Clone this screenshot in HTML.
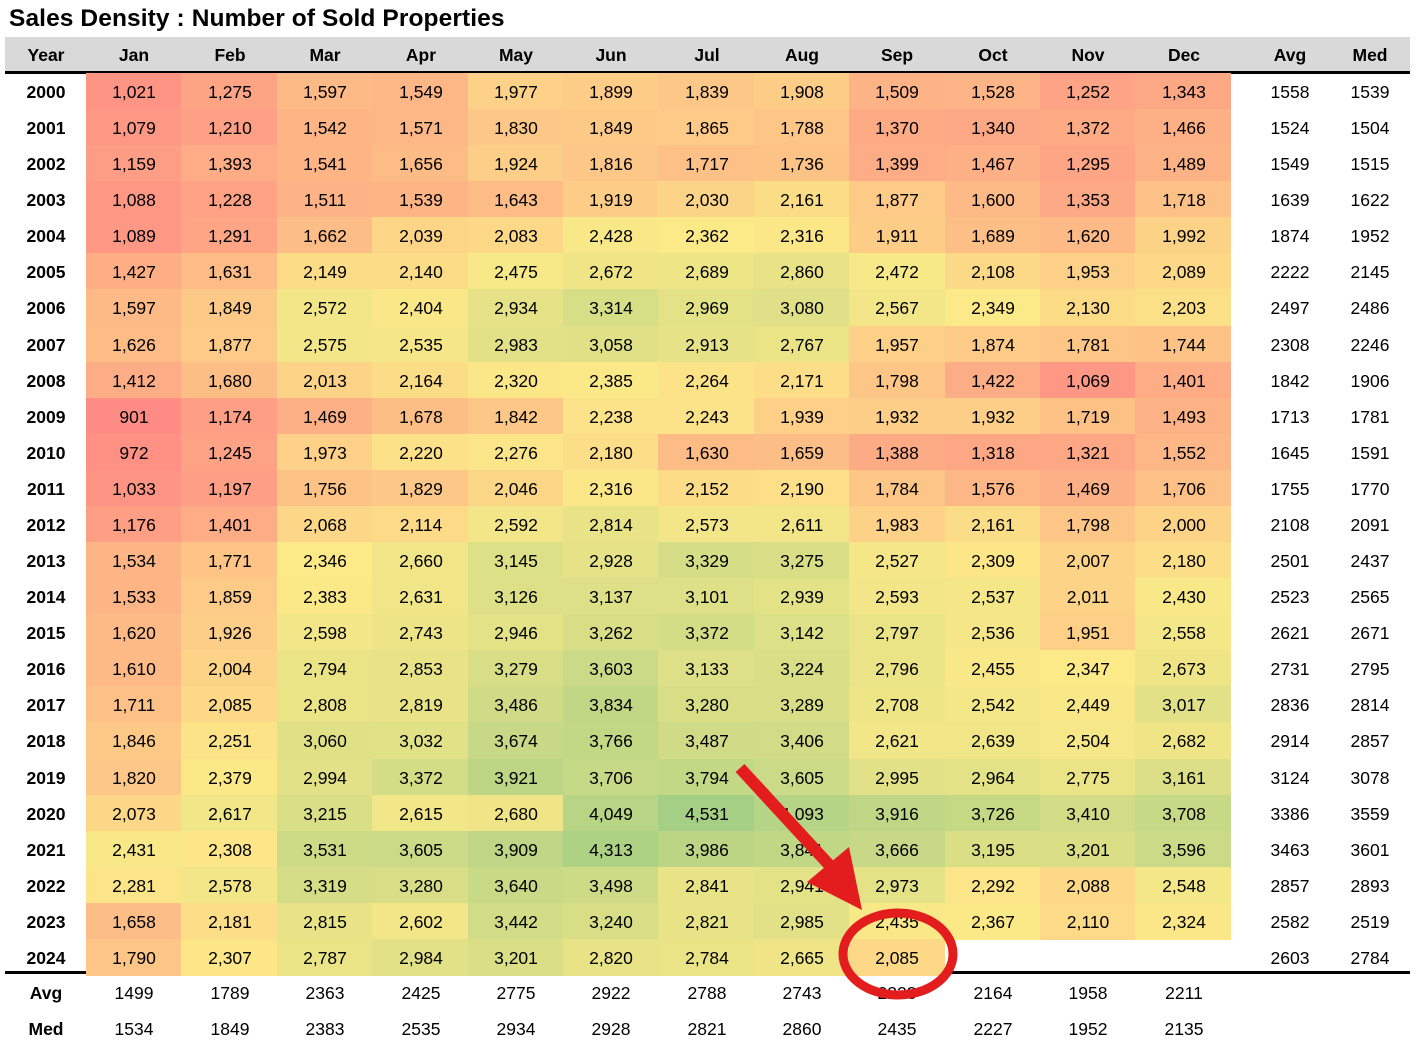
<!DOCTYPE html>
<html><head><meta charset="utf-8"><style>
body{margin:0;width:1423px;height:1040px;background:#fff;position:relative;overflow:hidden;font-family:"Liberation Sans",sans-serif}
.t{position:absolute;text-align:center;font-size:17.5px;color:#000;line-height:20px}
.b{font-weight:bold}
.c{position:absolute}
</style></head><body>
<div style="position:absolute;left:9px;top:5px;font-size:24.5px;font-weight:bold;letter-spacing:0.1px">Sales Density : Number of Sold Properties</div>
<div style="position:absolute;left:5px;top:37px;width:1405px;height:34px;background:#d9d9d9"></div>
<div style="position:absolute;left:5px;top:71px;width:1405px;height:3px;background:#000"></div>
<div style="position:absolute;left:5px;top:971px;width:1405px;height:3px;background:#000"></div>
<div id="g"></div>
<svg style="position:absolute;left:0;top:0" width="1423" height="1040">
<line x1="740" y1="768" x2="832" y2="868" stroke="#e31d1d" stroke-width="12"/>
<polygon points="849,847 807,882 862,910" fill="#e31d1d"/>
<ellipse cx="898" cy="954" rx="55" ry="41" fill="none" stroke="#e31d1d" stroke-width="9"/>
</svg>
<script>
const d=`1021 1275 1597 1549 1977 1899 1839 1908 1509 1528 1252 1343 1558 1539
1079 1210 1542 1571 1830 1849 1865 1788 1370 1340 1372 1466 1524 1504
1159 1393 1541 1656 1924 1816 1717 1736 1399 1467 1295 1489 1549 1515
1088 1228 1511 1539 1643 1919 2030 2161 1877 1600 1353 1718 1639 1622
1089 1291 1662 2039 2083 2428 2362 2316 1911 1689 1620 1992 1874 1952
1427 1631 2149 2140 2475 2672 2689 2860 2472 2108 1953 2089 2222 2145
1597 1849 2572 2404 2934 3314 2969 3080 2567 2349 2130 2203 2497 2486
1626 1877 2575 2535 2983 3058 2913 2767 1957 1874 1781 1744 2308 2246
1412 1680 2013 2164 2320 2385 2264 2171 1798 1422 1069 1401 1842 1906
901 1174 1469 1678 1842 2238 2243 1939 1932 1932 1719 1493 1713 1781
972 1245 1973 2220 2276 2180 1630 1659 1388 1318 1321 1552 1645 1591
1033 1197 1756 1829 2046 2316 2152 2190 1784 1576 1469 1706 1755 1770
1176 1401 2068 2114 2592 2814 2573 2611 1983 2161 1798 2000 2108 2091
1534 1771 2346 2660 3145 2928 3329 3275 2527 2309 2007 2180 2501 2437
1533 1859 2383 2631 3126 3137 3101 2939 2593 2537 2011 2430 2523 2565
1620 1926 2598 2743 2946 3262 3372 3142 2797 2536 1951 2558 2621 2671
1610 2004 2794 2853 3279 3603 3133 3224 2796 2455 2347 2673 2731 2795
1711 2085 2808 2819 3486 3834 3280 3289 2708 2542 2449 3017 2836 2814
1846 2251 3060 3032 3674 3766 3487 3406 2621 2639 2504 2682 2914 2857
1820 2379 2994 3372 3921 3706 3794 3605 2995 2964 2775 3161 3124 3078
2073 2617 3215 2615 2680 4049 4531 4093 3916 3726 3410 3708 3386 3559
2431 2308 3531 3605 3909 4313 3986 3841 3666 3195 3201 3596 3463 3601
2281 2578 3319 3280 3640 3498 2841 2941 2973 2292 2088 2548 2857 2893
1658 2181 2815 2602 3442 3240 2821 2985 2435 2367 2110 2324 2582 2519
1790 2307 2787 2984 3201 2820 2784 2665 2085 - - - 2603 2784`.split('\n').map(r=>r.trim().split(/\s+/));
const cx=[134,230,325,421,516,611,707,802,897,993,1088,1184,1290,1370];
const hd=['Jan','Feb','Mar','Apr','May','Jun','Jul','Aug','Sep','Oct','Nov','Dec','Avg','Med'];
let h='';
const T=(x,y,s,b)=>`<div class="t${b?' b':''}" style="left:${x-50}px;top:${y-10}px;width:100px">${s}</div>`;
h+=T(46,55,'Year',1);hd.forEach((s,i)=>h+=T(cx[i],55,s,1));
const mi=[252,233,136],hi=[165,207,132];
function col(v){let a,b,t;if(v<2350){t=Math.max(0,(v-900)/1450);a=[254,140,132];b=mi}else{t=Math.min(1,(v-2350)/2180);a=mi;b=hi}
return `rgb(${a.map((x,i)=>Math.round(x+(b[i]-x)*t)).join(',')})`}
d.forEach((r,i)=>{const y=91+36.08*i;h+=T(46,y+1,2000+i,1);
r.forEach((v,j)=>{if(v==='-')return;const n=+v;
if(j<12){const x0=86+95.4*j;h+=`<div class="c" style="left:${x0}px;top:${y-18}px;width:96px;height:37px;background:${col(n)}"></div>`;h+=T(cx[j],y+1,n.toLocaleString('en-US'))}
else h+=T(cx[j],y+1,v);});});
const av=[1499,1789,2363,2425,2775,2922,2788,2743,2223,2164,1958,2211],md=[1534,1849,2383,2535,2934,2928,2821,2860,2435,2227,1952,2135];
h+=T(46,993,'Avg',1);h+=T(46,1029,'Med',1);
av.forEach((v,i)=>h+=T(cx[i],993,v));md.forEach((v,i)=>h+=T(cx[i],1029,v));
document.getElementById('g').innerHTML=h;
</script>
</body></html>
